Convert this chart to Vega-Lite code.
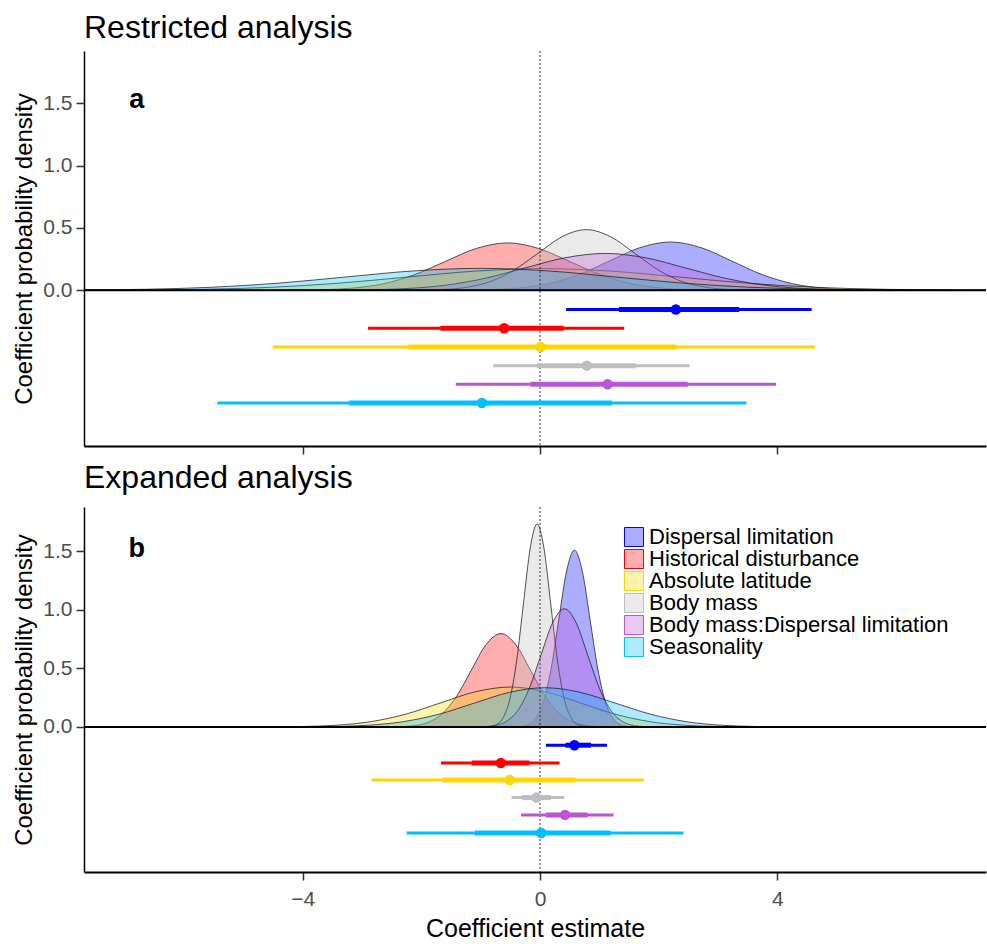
{
  "$schema": "https://vega.github.io/schema/vega-lite/v6.json",
  "padding": {"left": 12, "top": 11, "right": 0, "bottom": 1},
  "spacing": 6,
  "config": {
    "font": "Liberation Sans",
    "view": {"stroke": null},
    "axis": {"grid": false, "domainColor": "black", "domainWidth": 1.5, "tickColor": "#333333", "tickWidth": 1.5, "tickSize": 8, "labelColor": "#4d4d4d", "labelFontSize": 21, "titleFontSize": 24, "titleFontWeight": "normal", "titleColor": "black"},
    "title": {"fontSize": 32, "fontWeight": "normal", "anchor": "start", "frame": "group", "color": "black"}
  },
  "resolve": {"scale": {"fill": "independent", "stroke": "independent", "x": "independent", "y": "independent"}},
  "datasets": {
    "dens": [
      {"p":"a","v":"Dispersal limitation","x":-1.405,"d":0.0008},{"p":"a","v":"Dispersal limitation","x":-0.89,"d":0.0043},{"p":"a","v":"Dispersal limitation","x":-0.375,"d":0.017},{"p":"a","v":"Dispersal limitation","x":0.14,"d":0.0524},{"p":"a","v":"Dispersal limitation","x":0.655,"d":0.1258},{"p":"a","v":"Dispersal limitation","x":1.17,"d":0.2349},{"p":"a","v":"Dispersal limitation","x":1.685,"d":0.3418},{"p":"a","v":"Dispersal limitation","x":2.2,"d":0.3873},{"p":"a","v":"Dispersal limitation","x":2.715,"d":0.3418},{"p":"a","v":"Dispersal limitation","x":3.23,"d":0.2349},{"p":"a","v":"Dispersal limitation","x":3.745,"d":0.1258},{"p":"a","v":"Dispersal limitation","x":4.26,"d":0.0524},{"p":"a","v":"Dispersal limitation","x":4.775,"d":0.017},{"p":"a","v":"Dispersal limitation","x":5.29,"d":0.0043},{"p":"a","v":"Dispersal limitation","x":5.805,"d":0.0008},
      {"p":"a","v":"Historical disturbance","x":-4.225,"d":0.0008},{"p":"a","v":"Historical disturbance","x":-3.7,"d":0.0042},{"p":"a","v":"Historical disturbance","x":-3.175,"d":0.0167},{"p":"a","v":"Historical disturbance","x":-2.65,"d":0.0514},{"p":"a","v":"Historical disturbance","x":-2.125,"d":0.1234},{"p":"a","v":"Historical disturbance","x":-1.6,"d":0.2305},{"p":"a","v":"Historical disturbance","x":-1.075,"d":0.3353},{"p":"a","v":"Historical disturbance","x":-0.55,"d":0.3799},{"p":"a","v":"Historical disturbance","x":-0.025,"d":0.3353},{"p":"a","v":"Historical disturbance","x":0.5,"d":0.2305},{"p":"a","v":"Historical disturbance","x":1.025,"d":0.1234},{"p":"a","v":"Historical disturbance","x":1.55,"d":0.0514},{"p":"a","v":"Historical disturbance","x":2.075,"d":0.0167},{"p":"a","v":"Historical disturbance","x":2.6,"d":0.0042},{"p":"a","v":"Historical disturbance","x":3.125,"d":0.0008},
      {"p":"a","v":"Absolute latitude","x":-8.0,"d":0.0004},{"p":"a","v":"Absolute latitude","x":-6.85,"d":0.0019},{"p":"a","v":"Absolute latitude","x":-5.7,"d":0.0076},{"p":"a","v":"Absolute latitude","x":-4.55,"d":0.0235},{"p":"a","v":"Absolute latitude","x":-3.4,"d":0.0563},{"p":"a","v":"Absolute latitude","x":-2.25,"d":0.1052},{"p":"a","v":"Absolute latitude","x":-1.1,"d":0.1531},{"p":"a","v":"Absolute latitude","x":0.05,"d":0.1735},{"p":"a","v":"Absolute latitude","x":1.2,"d":0.1531},{"p":"a","v":"Absolute latitude","x":2.35,"d":0.1052},{"p":"a","v":"Absolute latitude","x":3.5,"d":0.0563},{"p":"a","v":"Absolute latitude","x":4.65,"d":0.0235},{"p":"a","v":"Absolute latitude","x":5.8,"d":0.0076},{"p":"a","v":"Absolute latitude","x":6.95,"d":0.0019},{"p":"a","v":"Absolute latitude","x":8.1,"d":0.0004},
      {"p":"a","v":"Body mass","x":-2.09,"d":0.0011},{"p":"a","v":"Body mass","x":-1.68,"d":0.0054},{"p":"a","v":"Body mass","x":-1.27,"d":0.0214},{"p":"a","v":"Body mass","x":-0.86,"d":0.0658},{"p":"a","v":"Body mass","x":-0.45,"d":0.158},{"p":"a","v":"Body mass","x":-0.04,"d":0.2951},{"p":"a","v":"Body mass","x":0.37,"d":0.4294},{"p":"a","v":"Body mass","x":0.78,"d":0.4865},{"p":"a","v":"Body mass","x":1.19,"d":0.4294},{"p":"a","v":"Body mass","x":1.6,"d":0.2951},{"p":"a","v":"Body mass","x":2.01,"d":0.158},{"p":"a","v":"Body mass","x":2.42,"d":0.0658},{"p":"a","v":"Body mass","x":2.83,"d":0.0214},{"p":"a","v":"Body mass","x":3.24,"d":0.0054},{"p":"a","v":"Body mass","x":3.65,"d":0.0011},
      {"p":"a","v":"Body mass:Dispersal limitation","x":-3.625,"d":0.0006},{"p":"a","v":"Body mass:Dispersal limitation","x":-2.95,"d":0.0033},{"p":"a","v":"Body mass:Dispersal limitation","x":-2.275,"d":0.013},{"p":"a","v":"Body mass:Dispersal limitation","x":-1.6,"d":0.04},{"p":"a","v":"Body mass:Dispersal limitation","x":-0.925,"d":0.0959},{"p":"a","v":"Body mass:Dispersal limitation","x":-0.25,"d":0.1792},{"p":"a","v":"Body mass:Dispersal limitation","x":0.425,"d":0.2608},{"p":"a","v":"Body mass:Dispersal limitation","x":1.1,"d":0.2955},{"p":"a","v":"Body mass:Dispersal limitation","x":1.775,"d":0.2608},{"p":"a","v":"Body mass:Dispersal limitation","x":2.45,"d":0.1792},{"p":"a","v":"Body mass:Dispersal limitation","x":3.125,"d":0.0959},{"p":"a","v":"Body mass:Dispersal limitation","x":3.8,"d":0.04},{"p":"a","v":"Body mass:Dispersal limitation","x":4.475,"d":0.013},{"p":"a","v":"Body mass:Dispersal limitation","x":5.15,"d":0.0033},{"p":"a","v":"Body mass:Dispersal limitation","x":5.825,"d":0.0006},
      {"p":"a","v":"Seasonality","x":-8.945,"d":0.0004},{"p":"a","v":"Seasonality","x":-7.81,"d":0.002},{"p":"a","v":"Seasonality","x":-6.675,"d":0.0077},{"p":"a","v":"Seasonality","x":-5.54,"d":0.0238},{"p":"a","v":"Seasonality","x":-4.405,"d":0.0571},{"p":"a","v":"Seasonality","x":-3.27,"d":0.1066},{"p":"a","v":"Seasonality","x":-2.135,"d":0.1551},{"p":"a","v":"Seasonality","x":-1.0,"d":0.1757},{"p":"a","v":"Seasonality","x":0.135,"d":0.1551},{"p":"a","v":"Seasonality","x":1.27,"d":0.1066},{"p":"a","v":"Seasonality","x":2.405,"d":0.0571},{"p":"a","v":"Seasonality","x":3.54,"d":0.0238},{"p":"a","v":"Seasonality","x":4.675,"d":0.0077},{"p":"a","v":"Seasonality","x":5.81,"d":0.002},{"p":"a","v":"Seasonality","x":6.945,"d":0.0004},
      {"p":"b","v":"Dispersal limitation","x":-0.344,"d":0.0033},{"p":"b","v":"Dispersal limitation","x":-0.212,"d":0.0168},{"p":"b","v":"Dispersal limitation","x":-0.08,"d":0.0664},{"p":"b","v":"Dispersal limitation","x":0.052,"d":0.2045},{"p":"b","v":"Dispersal limitation","x":0.184,"d":0.4906},{"p":"b","v":"Dispersal limitation","x":0.316,"d":0.9166},{"p":"b","v":"Dispersal limitation","x":0.448,"d":1.3336},{"p":"b","v":"Dispersal limitation","x":0.58,"d":1.5111},{"p":"b","v":"Dispersal limitation","x":0.712,"d":1.3336},{"p":"b","v":"Dispersal limitation","x":0.844,"d":0.9166},{"p":"b","v":"Dispersal limitation","x":0.976,"d":0.4906},{"p":"b","v":"Dispersal limitation","x":1.108,"d":0.2045},{"p":"b","v":"Dispersal limitation","x":1.24,"d":0.0664},{"p":"b","v":"Dispersal limitation","x":1.372,"d":0.0168},{"p":"b","v":"Dispersal limitation","x":1.504,"d":0.0033},
      {"p":"b","v":"Historical disturbance","x":-2.41,"d":0.0017},{"p":"b","v":"Historical disturbance","x":-2.16,"d":0.0089},{"p":"b","v":"Historical disturbance","x":-1.91,"d":0.0351},{"p":"b","v":"Historical disturbance","x":-1.66,"d":0.108},{"p":"b","v":"Historical disturbance","x":-1.41,"d":0.259},{"p":"b","v":"Historical disturbance","x":-1.16,"d":0.4839},{"p":"b","v":"Historical disturbance","x":-0.91,"d":0.7041},{"p":"b","v":"Historical disturbance","x":-0.66,"d":0.7979},{"p":"b","v":"Historical disturbance","x":-0.41,"d":0.7041},{"p":"b","v":"Historical disturbance","x":-0.16,"d":0.4839},{"p":"b","v":"Historical disturbance","x":0.09,"d":0.259},{"p":"b","v":"Historical disturbance","x":0.34,"d":0.108},{"p":"b","v":"Historical disturbance","x":0.59,"d":0.0351},{"p":"b","v":"Historical disturbance","x":0.84,"d":0.0089},{"p":"b","v":"Historical disturbance","x":1.09,"d":0.0017},
      {"p":"b","v":"Absolute latitude","x":-4.595,"d":0.0007},{"p":"b","v":"Absolute latitude","x":-4.01,"d":0.0038},{"p":"b","v":"Absolute latitude","x":-3.425,"d":0.015},{"p":"b","v":"Absolute latitude","x":-2.84,"d":0.0461},{"p":"b","v":"Absolute latitude","x":-2.255,"d":0.1107},{"p":"b","v":"Absolute latitude","x":-1.67,"d":0.2068},{"p":"b","v":"Absolute latitude","x":-1.085,"d":0.3009},{"p":"b","v":"Absolute latitude","x":-0.5,"d":0.341},{"p":"b","v":"Absolute latitude","x":0.085,"d":0.3009},{"p":"b","v":"Absolute latitude","x":0.67,"d":0.2068},{"p":"b","v":"Absolute latitude","x":1.255,"d":0.1107},{"p":"b","v":"Absolute latitude","x":1.84,"d":0.0461},{"p":"b","v":"Absolute latitude","x":2.425,"d":0.015},{"p":"b","v":"Absolute latitude","x":3.01,"d":0.0038},{"p":"b","v":"Absolute latitude","x":3.595,"d":0.0007},
      {"p":"b","v":"Body mass","x":-0.855,"d":0.0038},{"p":"b","v":"Body mass","x":-0.74,"d":0.0193},{"p":"b","v":"Body mass","x":-0.625,"d":0.0762},{"p":"b","v":"Body mass","x":-0.51,"d":0.2347},{"p":"b","v":"Body mass","x":-0.395,"d":0.5631},{"p":"b","v":"Body mass","x":-0.28,"d":1.0521},{"p":"b","v":"Body mass","x":-0.165,"d":1.5307},{"p":"b","v":"Body mass","x":-0.05,"d":1.7345},{"p":"b","v":"Body mass","x":0.065,"d":1.5307},{"p":"b","v":"Body mass","x":0.18,"d":1.0521},{"p":"b","v":"Body mass","x":0.295,"d":0.5631},{"p":"b","v":"Body mass","x":0.41,"d":0.2347},{"p":"b","v":"Body mass","x":0.525,"d":0.0762},{"p":"b","v":"Body mass","x":0.64,"d":0.0193},{"p":"b","v":"Body mass","x":0.755,"d":0.0038},
      {"p":"b","v":"Body mass:Dispersal limitation","x":-0.9725,"d":0.0022},{"p":"b","v":"Body mass:Dispersal limitation","x":-0.775,"d":0.0112},{"p":"b","v":"Body mass:Dispersal limitation","x":-0.5775,"d":0.0444},{"p":"b","v":"Body mass:Dispersal limitation","x":-0.38,"d":0.1367},{"p":"b","v":"Body mass:Dispersal limitation","x":-0.1825,"d":0.3279},{"p":"b","v":"Body mass:Dispersal limitation","x":0.015,"d":0.6126},{"p":"b","v":"Body mass:Dispersal limitation","x":0.2125,"d":0.8913},{"p":"b","v":"Body mass:Dispersal limitation","x":0.41,"d":1.01},{"p":"b","v":"Body mass:Dispersal limitation","x":0.6075,"d":0.8913},{"p":"b","v":"Body mass:Dispersal limitation","x":0.805,"d":0.6126},{"p":"b","v":"Body mass:Dispersal limitation","x":1.0025,"d":0.3279},{"p":"b","v":"Body mass:Dispersal limitation","x":1.2,"d":0.1367},{"p":"b","v":"Body mass:Dispersal limitation","x":1.3975,"d":0.0444},{"p":"b","v":"Body mass:Dispersal limitation","x":1.595,"d":0.0112},{"p":"b","v":"Body mass:Dispersal limitation","x":1.7925,"d":0.0022},
      {"p":"b","v":"Seasonality","x":-4.085,"d":0.0007},{"p":"b","v":"Seasonality","x":-3.49,"d":0.0037},{"p":"b","v":"Seasonality","x":-2.895,"d":0.0147},{"p":"b","v":"Seasonality","x":-2.3,"d":0.0454},{"p":"b","v":"Seasonality","x":-1.705,"d":0.1088},{"p":"b","v":"Seasonality","x":-1.11,"d":0.2033},{"p":"b","v":"Seasonality","x":-0.515,"d":0.2959},{"p":"b","v":"Seasonality","x":0.08,"d":0.3352},{"p":"b","v":"Seasonality","x":0.675,"d":0.2959},{"p":"b","v":"Seasonality","x":1.27,"d":0.2033},{"p":"b","v":"Seasonality","x":1.865,"d":0.1088},{"p":"b","v":"Seasonality","x":2.46,"d":0.0454},{"p":"b","v":"Seasonality","x":3.055,"d":0.0147},{"p":"b","v":"Seasonality","x":3.65,"d":0.0037},{"p":"b","v":"Seasonality","x":4.245,"d":0.0007}
    ],
    "ints": [
      {"p":"a","v":"Dispersal limitation","y":-0.155,"lo95":0.44,"hi95":4.58,"lo66":1.33,"hi66":3.36,"med":2.29},
      {"p":"a","v":"Historical disturbance","y":-0.305,"lo95":-2.9,"hi95":1.42,"lo66":-1.68,"hi66":0.4,"med":-0.605},
      {"p":"a","v":"Absolute latitude","y":-0.455,"lo95":-4.51,"hi95":4.64,"lo66":-2.23,"hi66":2.3,"med":0.01},
      {"p":"a","v":"Body mass","y":-0.605,"lo95":-0.79,"hi95":2.52,"lo66":-0.05,"hi66":1.61,"med":0.79},
      {"p":"a","v":"Body mass:Dispersal limitation","y":-0.755,"lo95":-1.42,"hi95":3.98,"lo66":-0.16,"hi66":2.49,"med":1.14},
      {"p":"a","v":"Seasonality","y":-0.905,"lo95":-5.44,"hi95":3.48,"lo66":-3.22,"hi66":1.21,"med":-0.98},
      {"p":"b","v":"Dispersal limitation","y":-0.156,"lo95":0.1,"hi95":1.13,"lo66":0.43,"hi66":0.86,"med":0.58},
      {"p":"b","v":"Historical disturbance","y":-0.308,"lo95":-1.67,"hi95":0.33,"lo66":-1.15,"hi66":-0.18,"med":-0.66},
      {"p":"b","v":"Absolute latitude","y":-0.453,"lo95":-2.84,"hi95":1.75,"lo66":-1.64,"hi66":0.6,"med":-0.51},
      {"p":"b","v":"Body mass","y":-0.604,"lo95":-0.48,"hi95":0.41,"lo66":-0.3,"hi66":0.18,"med":-0.06},
      {"p":"b","v":"Body mass:Dispersal limitation","y":-0.752,"lo95":-0.32,"hi95":1.24,"lo66":0.1,"hi66":0.8,"med":0.42},
      {"p":"b","v":"Seasonality","y":-0.906,"lo95":-2.25,"hi95":2.42,"lo66":-1.1,"hi66":1.19,"med":0.02}
    ],
    "labels": [
      {"p":"a","label":"a","x":-6.8,"y":1.53},
      {"p":"b","label":"b","x":-6.8,"y":1.52}
    ],
    "refs": [{"x0": 0, "y0": 0}]
  },
  "vconcat": [
    {
      "width": 902, "height": 395,
      "title": {"text": "Restricted analysis", "offset": 6},
      "layer": [
        {
          "data": {"name": "dens"},
          "transform": [{"filter": "datum.p == 'a'"}],
          "mark": {"type": "area", "interpolate": "monotone", "fillOpacity": 0.32, "stroke": "#1a1a1a", "strokeWidth": 1, "strokeOpacity": 0.75, "clip": true},
          "encoding": {
            "x": {"field": "x", "type": "quantitative", "scale": {"domain": [-7.69, 7.52], "nice": false, "zero": false}, "axis": {"values": [-4, 0, 4], "format": "d", "labels": false, "title": null, "domainWidth": 2}},
            "y": {"field": "d", "type": "quantitative", "scale": {"domain": [-1.25, 1.92], "nice": false, "zero": false}, "axis": {"values": [0, 0.5, 1, 1.5], "format": ".1f", "title": "Coefficient probability density", "titlePadding": 6, "labelPadding": 4}},
            "y2": {"datum": 0},
            "fill": {"field": "v", "type": "nominal", "scale": {"domain": ["Dispersal limitation","Historical disturbance","Absolute latitude","Body mass","Body mass:Dispersal limitation","Seasonality"], "range": ["#0000ff","#ff0000","#ffd700","#bebebe","#ba55d3","#00bfff"]}, "legend": null}
          }
        },
        {
          "data": {"name": "refs"},
          "mark": {"type": "rule", "strokeDash": [2, 2], "color": "#333333", "strokeWidth": 1},
          "encoding": {"x": {"field": "x0", "type": "quantitative"}}
        },
        {
          "data": {"name": "refs"},
          "mark": {"type": "rule", "color": "black", "strokeWidth": 2},
          "encoding": {"y": {"field": "y0", "type": "quantitative"}}
        },
        {
          "data": {"name": "ints"},
          "transform": [{"filter": "datum.p == 'a'"}],
          "mark": {"type": "rule", "strokeWidth": 3},
          "encoding": {
            "x": {"field": "lo95", "type": "quantitative"},
            "x2": {"field": "hi95"},
            "y": {"field": "y", "type": "quantitative"},
            "stroke": {"field": "v", "type": "nominal", "scale": {"domain": ["Dispersal limitation","Historical disturbance","Absolute latitude","Body mass","Body mass:Dispersal limitation","Seasonality"], "range": ["#0000ff","#ff0000","#ffd700","#bebebe","#ba55d3","#00bfff"]}, "legend": null}
          }
        },
        {
          "data": {"name": "ints"},
          "transform": [{"filter": "datum.p == 'a'"}],
          "mark": {"type": "rule", "strokeWidth": 5},
          "encoding": {
            "x": {"field": "lo66", "type": "quantitative"},
            "x2": {"field": "hi66"},
            "y": {"field": "y", "type": "quantitative"},
            "stroke": {"field": "v", "type": "nominal", "legend": null}
          }
        },
        {
          "data": {"name": "ints"},
          "transform": [{"filter": "datum.p == 'a'"}],
          "mark": {"type": "point", "filled": true, "size": 110, "opacity": 1},
          "encoding": {
            "x": {"field": "med", "type": "quantitative"},
            "y": {"field": "y", "type": "quantitative"},
            "fill": {"field": "v", "type": "nominal", "legend": null}
          }
        },
        {
          "data": {"name": "labels"},
          "transform": [{"filter": "datum.p == 'a'"}],
          "mark": {"type": "text", "fontSize": 27, "fontWeight": "bold", "color": "black"},
          "encoding": {
            "x": {"field": "x", "type": "quantitative"},
            "y": {"field": "y", "type": "quantitative"},
            "text": {"field": "label"}
          }
        }
      ]
    },
    {
      "width": 902, "height": 365,
      "title": {"text": "Expanded analysis", "offset": 12},
      "layer": [
        {
          "data": {"name": "dens"},
          "transform": [{"filter": "datum.p == 'b'"}],
          "mark": {"type": "area", "interpolate": "monotone", "fillOpacity": 0.32, "stroke": "#1a1a1a", "strokeWidth": 1, "strokeOpacity": 0.75, "clip": true},
          "encoding": {
            "x": {"field": "x", "type": "quantitative", "scale": {"domain": [-7.69, 7.52], "nice": false, "zero": false}, "axis": {"values": [-4, 0, 4], "format": "d", "title": "Coefficient estimate", "titleFontSize": 25, "labelPadding": 8, "titlePadding": 7, "domainWidth": 2}},
            "y": {"field": "d", "type": "quantitative", "scale": {"domain": [-1.24, 1.88], "nice": false, "zero": false}, "axis": {"values": [0, 0.5, 1, 1.5], "format": ".1f", "title": "Coefficient probability density", "titlePadding": 6, "labelPadding": 4}},
            "y2": {"datum": 0},
            "fill": {"field": "v", "type": "nominal", "scale": {"domain": ["Dispersal limitation","Historical disturbance","Absolute latitude","Body mass","Body mass:Dispersal limitation","Seasonality"], "range": ["#0000ff","#ff0000","#ffd700","#bebebe","#ba55d3","#00bfff"]},
              "legend": {"orient": "none", "legendX": 539, "legendY": 19, "title": null, "padding": 0, "symbolType": "square", "symbolSize": 361, "symbolStrokeColor": "black", "symbolStrokeWidth": 1, "labelFontSize": 22, "labelColor": "black", "labelOffset": 4, "labelLimit": 500, "rowPadding": 0, "clipHeight": 22,
                "encode": {"symbols": {"update": {"fillOpacity": {"value": 0.32}, "strokeOpacity": {"value": 1}, "stroke": {"value": "#1a1a1a"}}}}}}
          }
        },
        {
          "data": {"name": "refs"},
          "mark": {"type": "rule", "strokeDash": [2, 2], "color": "#333333", "strokeWidth": 1},
          "encoding": {"x": {"field": "x0", "type": "quantitative"}}
        },
        {
          "data": {"name": "refs"},
          "mark": {"type": "rule", "color": "black", "strokeWidth": 2},
          "encoding": {"y": {"field": "y0", "type": "quantitative"}}
        },
        {
          "data": {"name": "ints"},
          "transform": [{"filter": "datum.p == 'b'"}],
          "mark": {"type": "rule", "strokeWidth": 3},
          "encoding": {
            "x": {"field": "lo95", "type": "quantitative"},
            "x2": {"field": "hi95"},
            "y": {"field": "y", "type": "quantitative"},
            "stroke": {"field": "v", "type": "nominal", "scale": {"domain": ["Dispersal limitation","Historical disturbance","Absolute latitude","Body mass","Body mass:Dispersal limitation","Seasonality"], "range": ["#0000ff","#ff0000","#ffd700","#bebebe","#ba55d3","#00bfff"]}, "legend": null}
          }
        },
        {
          "data": {"name": "ints"},
          "transform": [{"filter": "datum.p == 'b'"}],
          "mark": {"type": "rule", "strokeWidth": 5},
          "encoding": {
            "x": {"field": "lo66", "type": "quantitative"},
            "x2": {"field": "hi66"},
            "y": {"field": "y", "type": "quantitative"},
            "stroke": {"field": "v", "type": "nominal", "legend": null}
          }
        },
        {
          "data": {"name": "ints"},
          "transform": [{"filter": "datum.p == 'b'"}],
          "mark": {"type": "point", "filled": true, "size": 110, "opacity": 1},
          "encoding": {
            "x": {"field": "med", "type": "quantitative"},
            "y": {"field": "y", "type": "quantitative"},
            "fill": {"field": "v", "type": "nominal", "legend": null}
          }
        },
        {
          "data": {"name": "labels"},
          "transform": [{"filter": "datum.p == 'b'"}],
          "mark": {"type": "text", "fontSize": 27, "fontWeight": "bold", "color": "black"},
          "encoding": {
            "x": {"field": "x", "type": "quantitative"},
            "y": {"field": "y", "type": "quantitative"},
            "text": {"field": "label"}
          }
        }
      ]
    }
  ]
}
